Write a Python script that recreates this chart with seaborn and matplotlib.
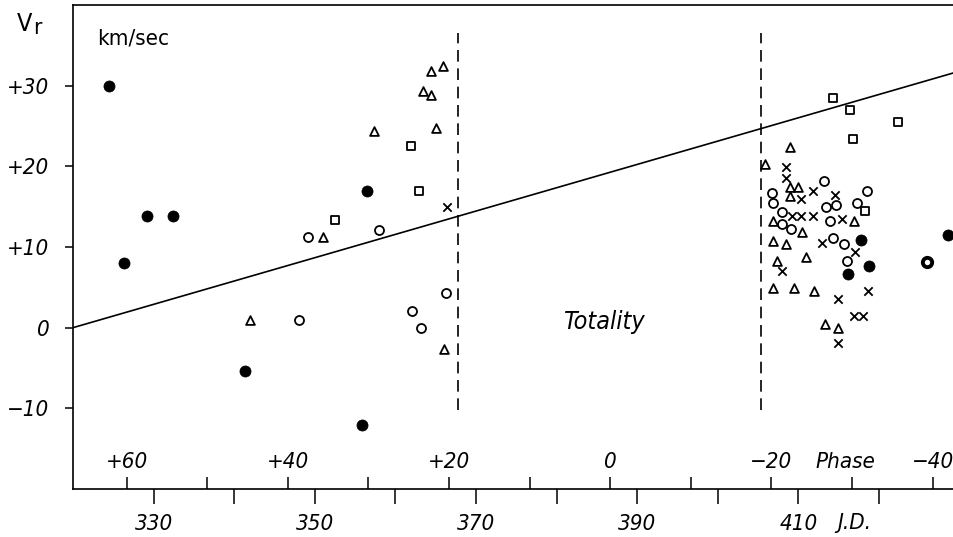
import matplotlib
matplotlib.use("Agg")
import matplotlib.pyplot as plt
import seaborn as sns
import numpy as np

sns.set_theme(style="white")
plt.rcParams['font.family'] = ['DejaVu Sans']

# ---- data -------------------------------------------------------------
filled_jd = [324.5, 326.3, 329.2, 332.4, 341.4, 356.5, 355.8, 417.8, 418.7, 416.2, 428.6]
filled_v = [30.0, 8.0, 13.9, 13.9, -5.4, 16.9, -12.1, 10.9, 7.7, 6.7, 11.5]

ring_jd = [426.0]
ring_v = [8.2]

tri_jd = [364.4, 365.9, 363.4, 364.4, 357.4, 365.0, 351.0, 342.0, 366.0,
          408.9, 405.9, 408.9, 409.9, 408.9, 406.8, 410.4, 416.9, 406.9,
          408.4, 407.3, 410.9, 406.9, 409.4, 411.9, 413.3, 414.9]
tri_v = [31.8, 32.4, 29.3, 28.8, 24.4, 24.8, 11.3, 0.95, -2.6,
         22.4, 20.3, 17.4, 17.5, 16.3, 13.2, 11.8, 13.2, 10.8,
         10.4, 8.3, 8.8, 4.9, 4.9, 4.5, 0.4, -0.1]

circ_jd = [349.2, 358.0, 348.1, 362.1, 363.2, 366.3, 413.2, 406.7, 418.5, 406.8,
           407.9, 413.4, 414.7, 417.3, 408.0, 409.1, 413.9, 414.3, 415.6, 416.0]
circ_v = [11.3, 12.1, 0.95, 2.1, -0.1, 4.3, 18.2, 16.7, 17.0, 15.5,
          14.4, 14.9, 15.2, 15.5, 12.8, 12.2, 13.2, 11.1, 10.4, 8.3]

sq_jd = [361.9, 362.9, 352.5, 414.3, 416.4, 422.3, 416.8, 418.3]
sq_v = [22.5, 16.9, 13.4, 28.5, 27.0, 25.5, 23.4, 14.5]

x_jd = [366.4, 408.4, 408.4, 411.8, 410.3, 414.5, 409.2, 410.3, 411.8, 415.4,
        412.9, 417.0, 407.9, 418.6, 414.9, 416.9, 418.0, 414.9]
x_v = [15.0, 19.9, 18.5, 17.0, 16.0, 16.5, 13.9, 13.9, 13.9, 13.5,
       10.5, 9.4, 7.0, 4.5, 3.6, 1.5, 1.5, -1.9]

line_jd = [320.0, 429.3]
line_v = [0.0, 31.6]

totality_jd = [367.8, 405.4]
totality_v = [-10.2, 36.5]

phase_zero_jd = 386.65
phase_ticks = [60, 50, 40, 30, 20, 10, 0, -10, -20, -30, -40]
phase_labels = ['+60', '', '+40', '', '+20', '', '0', '', '\u221220', '', '\u221240']

jd_major = [330, 350, 370, 390, 410]
jd_minor = [340, 360, 380, 400, 420]
v_ticks = [-10, 0, 10, 20, 30]
v_labels = ['\u221210', '0', '+10', '+20', '+30']

# ---- figure -----------------------------------------------------------
fig = plt.figure(figsize=(9.54, 5.37), dpi=100)
ax = fig.add_axes([73 / 954, 48 / 537, 1 - 73 / 954, 484 / 537])

ink = 'black'
sns.lineplot(x=line_jd, y=line_v, ax=ax, color=ink, linewidth=1.2)
ax.vlines(totality_jd, totality_v[0], totality_v[1], colors=ink,
          linestyles=(0, (7, 4)), linewidth=1.2)

sns.scatterplot(x=filled_jd, y=filled_v, ax=ax, marker='o', s=64,
                color=ink, edgecolor=ink, linewidth=0.5, zorder=3)
sns.scatterplot(x=ring_jd, y=ring_v, ax=ax, marker='o', s=45,
                facecolor='white', edgecolor=ink, linewidth=2.8, zorder=3)
sns.scatterplot(x=circ_jd, y=circ_v, ax=ax, marker='o', s=42,
                facecolor='white', edgecolor=ink, linewidth=1.3, zorder=3)
sns.scatterplot(x=tri_jd, y=tri_v, ax=ax, marker='^', s=40,
                facecolor='white', edgecolor=ink, linewidth=1.3, zorder=3)
sns.scatterplot(x=sq_jd, y=sq_v, ax=ax, marker='s', s=40,
                facecolor='white', edgecolor=ink, linewidth=1.3, zorder=3)
sns.scatterplot(x=x_jd, y=x_v, ax=ax, marker='x', s=36,
                color=ink, linewidth=1.3, zorder=3)

ax.set_xlim(320, 429.3)
ax.set_ylim(-20, 40)

for side in ['left', 'bottom', 'top']:
    ax.spines[side].set_visible(True)
    ax.spines[side].set_color(ink)
    ax.spines[side].set_linewidth(1.2)
ax.spines['right'].set_visible(False)

tick_font = dict(fontsize=16, fontstyle='italic', fontstretch='condensed')

ax.set_yticks(v_ticks)
ax.set_yticklabels(v_labels, **tick_font)
ax.tick_params(axis='y', direction='out', length=6, width=1.1, pad=11,
               colors=ink, left=True)

ax.set_xticks(jd_major)
ax.set_xticklabels([str(t) for t in jd_major], **tick_font)
ax.set_xticks(jd_minor, minor=True)
ax.tick_params(axis='x', which='both', direction='out', length=11, width=1.1,
               pad=7, colors=ink, bottom=True)
ax.set_xlabel('')
ax.set_ylabel('')

sec = ax.secondary_xaxis('bottom', functions=(lambda x: phase_zero_jd - x,
                                              lambda p: phase_zero_jd - p))
sec.set_xticks(phase_ticks)
sec.set_xticklabels(phase_labels, **tick_font)
sec.tick_params(axis='x', direction='in', length=9, width=1.1, pad=-27,
                colors=ink)
sec.spines['bottom'].set_visible(False)

# ---- texts ------------------------------------------------------------
ax.text(323.0, 35.9, 'km/sec', fontsize=16, ha='left', va='center', color=ink,
        fontstretch='condensed')
ax.text(385.8, 0.7, 'Totality', fontsize=18, fontstyle='italic', fontstretch='condensed',
        ha='center', va='center', color=ink)
ax.text(415.8, -16.6, 'Phase', fontsize=16, fontstyle='italic', fontstretch='condensed',
        ha='center', va='center', color=ink)
ax.text(416.9, -24.2, 'J.D.', fontsize=16, fontstyle='italic', fontstretch='condensed',
        ha='center', va='center', color=ink, clip_on=False)
fig.text(17 / 954, 1 - 24 / 537, 'V', fontsize=18, ha='left', va='center', color=ink,
         fontstretch='condensed')
fig.text(33 / 954, 1 - 28 / 537, 'r', fontsize=16, ha='left', va='center', color=ink,
         fontstretch='condensed')

fig.savefig('out.png', dpi=100)
